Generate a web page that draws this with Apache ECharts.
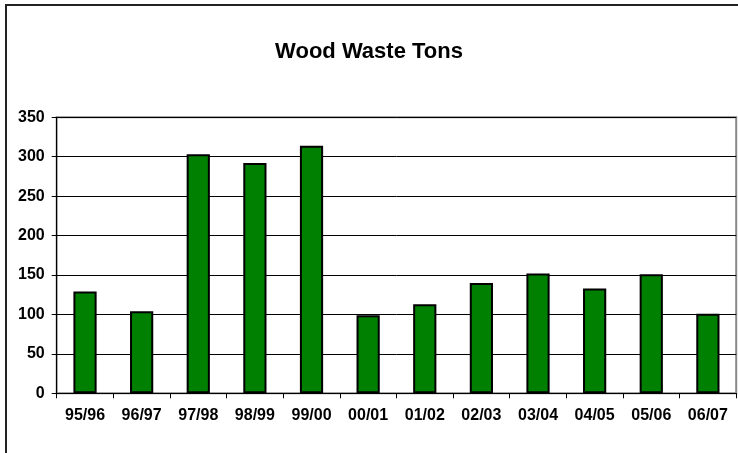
<!DOCTYPE html>
<html>
<head>
<meta charset="utf-8">
<script src="https://cdn.jsdelivr.net/npm/echarts@6/dist/echarts.min.js"></script>
<style>
html,body{margin:0;padding:0;background:#fff;}
#chart{width:738px;height:453px;}
</style>
</head>
<body>
<div id="chart"></div>
<script>
const categories = ['95/96','96/97','97/98','98/99','99/00','00/01','01/02','02/03','03/04','04/05','05/06','06/07'];
const tons = [129, 104, 303, 292, 314, 99, 113, 140, 152, 133, 151, 101];
const yTicks = { min: 0, max: 350, interval: 50 };
const titleText = 'Wood Waste Tons';

const FONT = '"Liberation Sans", Arial, sans-serif';
const chart = echarts.init(document.getElementById('chart'), null, {renderer: 'canvas'});
chart.setOption({
  animation: false,
  backgroundColor: '#fff',
  title: {
    text: titleText,
    left: 'center',
    top: 36,
    textStyle: { fontFamily: FONT, fontSize: 22, fontWeight: 'bold', color: '#000' }
  },
  graphic: [{
    type: 'rect',
    shape: { x: 6, y: 5, width: 800, height: 600 },
    style: { fill: null, stroke: '#222', lineWidth: 2 },
    silent: true, z: 100
  }],
  grid: {
    left: 56.7, right: 1.8, top: 117.3, bottom: 59.7,
    show: true, borderColor: '#888', borderWidth: 2, backgroundColor: 'transparent'
  },
  xAxis: {
    type: 'category',
    data: categories,
    axisLine: { lineStyle: { color: '#000', width: 1 } },
    axisTick: { show: true, alignWithLabel: false, length: 5, lineStyle: { color: '#000' } },
    axisLabel: { fontFamily: FONT, fontSize: 16, fontWeight: 'bold', color: '#000', margin: 14, interval: 0 },
    splitLine: { show: false }
  },
  yAxis: {
    type: 'value',
    min: yTicks.min, max: yTicks.max, interval: yTicks.interval,
    axisLine: { show: true, lineStyle: { color: '#000', width: 1 } },
    axisTick: { show: true, length: 5, lineStyle: { color: '#000' } },
    axisLabel: { fontFamily: FONT, fontSize: 16, fontWeight: 'bold', color: '#000', margin: 12 },
    splitLine: { show: true, lineStyle: { color: '#000', width: 1 } }
  },
  series: [{
    type: 'bar',
    data: tons,
    barCategoryGap: '59%',
    itemStyle: { color: '#008000', borderColor: '#000', borderWidth: 2 }
  }]
});
</script>
</body>
</html>
